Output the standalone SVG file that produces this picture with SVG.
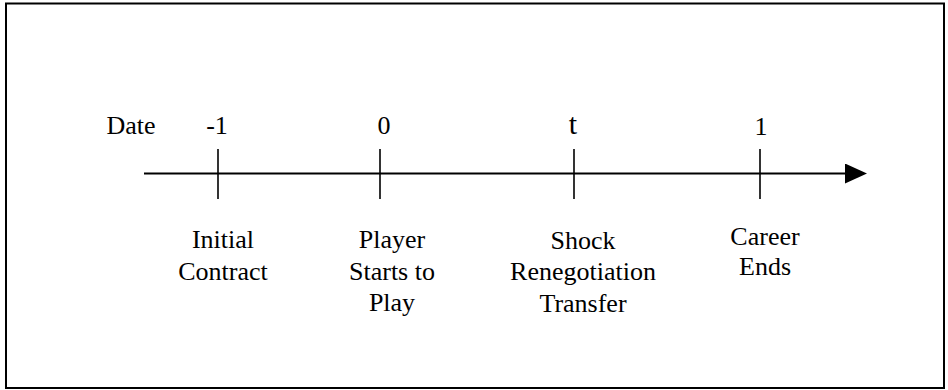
<svg xmlns="http://www.w3.org/2000/svg" width="948" height="390" viewBox="0 0 948 390">
<style>
text{font-family:'Liberation Serif','DejaVu Serif',serif;font-size:26px;fill:#000;text-anchor:middle}
.big{font-size:30px}
.tick{stroke:#000;stroke-width:1.6}
</style>
<defs>
<marker id="arr" markerUnits="userSpaceOnUse" markerWidth="24" markerHeight="22" refX="0" refY="10" orient="auto">
<path d="M0,0 L22,10 L0,20 Z" fill="#000"/>
</marker>
</defs>
<rect x="6" y="3.5" width="938" height="384.5" fill="#fff" stroke="#000" stroke-width="2"/>
<g id="connectors">
<line x1="144" y1="173.5" x2="845" y2="173.5" stroke="#000" stroke-width="2" marker-end="url(#arr)"/>
</g>
<g font-family="Liberation Serif, DejaVu Serif, serif">
<g id="date-label"><text x="131" y="134">Date</text></g>
<g id="tick-m1">
<line class="tick" x1="218" y1="149" x2="218" y2="199"/>
<text x="217" y="134">-1</text>
<text x="223" y="248">Initial</text>
<text x="223" y="280">Contract</text>
</g>
<g id="tick-0">
<line class="tick" x1="380" y1="149" x2="380" y2="199"/>
<text x="384" y="134">0</text>
<text x="392" y="248">Player</text>
<text x="392" y="280">Starts to</text>
<text x="392" y="311">Play</text>
</g>
<g id="tick-t">
<line class="tick" x1="574" y1="149" x2="574" y2="199"/>
<text class="big" x="573" y="134">t</text>
<text x="583" y="249">Shock</text>
<text x="583" y="280">Renegotiation</text>
<text x="583" y="312">Transfer</text>
</g>
<g id="tick-1">
<line class="tick" x1="760" y1="149" x2="760" y2="199"/>
<text x="761" y="135">1</text>
<text x="765" y="245">Career</text>
<text x="765" y="275">Ends</text>
</g>
</g>
</svg>
